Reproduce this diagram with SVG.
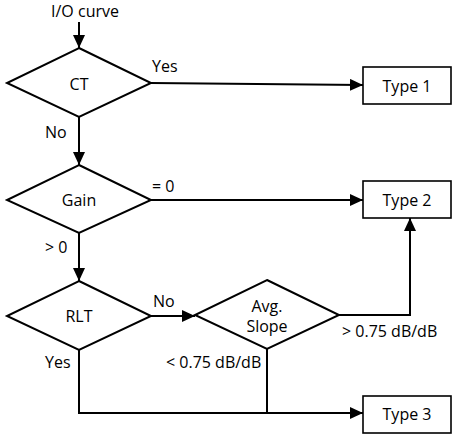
<svg xmlns="http://www.w3.org/2000/svg" width="454" height="436" viewBox="0 0 454 436">
<defs>
<marker id="arr" markerUnits="userSpaceOnUse" markerWidth="13" markerHeight="12" refX="13" refY="6" orient="auto">
<path d="M0,0 L13,6 L0,12 Z" fill="#000"/>
</marker>
<style>
text{font-family:"Open Sans","Liberation Sans",sans-serif;font-size:16px;fill:#000}
.c{text-anchor:middle}
.d{fill:#fff;stroke:#000;stroke-width:2}
.b{fill:#fff;stroke:#000;stroke-width:1.6}
.e{fill:none;stroke:#000;stroke-width:2}
</style>
</defs>
<rect width="454" height="436" fill="#fff"/>
<g id="connectors">
<path class="e" d="M79,22 V48" marker-end="url(#arr)"/>
<path class="e" d="M151,83 L363,85" marker-end="url(#arr)"/>
<path class="e" d="M79,117 V165" marker-end="url(#arr)"/>
<path class="e" d="M151,200 H363" marker-end="url(#arr)"/>
<path class="e" d="M79,233 V281" marker-end="url(#arr)"/>
<path class="e" d="M151,316 H195" marker-end="url(#arr)"/>
<path class="e" d="M339,315 H410 V218" marker-end="url(#arr)"/>
<path class="e" d="M79,350 V413 H363" marker-end="url(#arr)"/>
<path class="e" d="M267,349 V413"/>
<text x="152" y="72">Yes</text>
<text x="45" y="138">No</text>
<text x="152" y="192">= 0</text>
<text x="45" y="253">&gt; 0</text>
<text x="153" y="307">No</text>
<text x="342" y="337">&gt; 0.75 dB/dB</text>
<text x="45" y="368">Yes</text>
<text x="166" y="368">&lt; 0.75 dB/dB</text>
</g>
<g id="start"><text class="c" x="85" y="17">I/O curve</text></g>
<g id="ct"><path class="d" d="M79,48 L151,83 L79,117 L7,83 Z"/><text class="c" x="79" y="90">CT</text></g>
<g id="gain"><path class="d" d="M79,165 L151,200 L79,233 L7,200 Z"/><text class="c" x="79" y="206">Gain</text></g>
<g id="rlt"><path class="d" d="M79,281 L151,316 L79,350 L7,316 Z"/><text class="c" x="79" y="322">RLT</text></g>
<g id="avg"><path class="d" d="M267,280 L339,315 L267,349 L195,315 Z"/><text class="c" x="267" y="312">Avg.</text><text class="c" x="267" y="332">Slope</text></g>
<g id="type1"><rect class="b" x="363" y="67" width="88" height="37"/><text class="c" x="407" y="92">Type 1</text></g>
<g id="type2"><rect class="b" x="363" y="181" width="88" height="37"/><text class="c" x="407" y="206">Type 2</text></g>
<g id="type3"><rect class="b" x="363" y="396" width="88" height="37"/><text class="c" x="407" y="420">Type 3</text></g>
</svg>
